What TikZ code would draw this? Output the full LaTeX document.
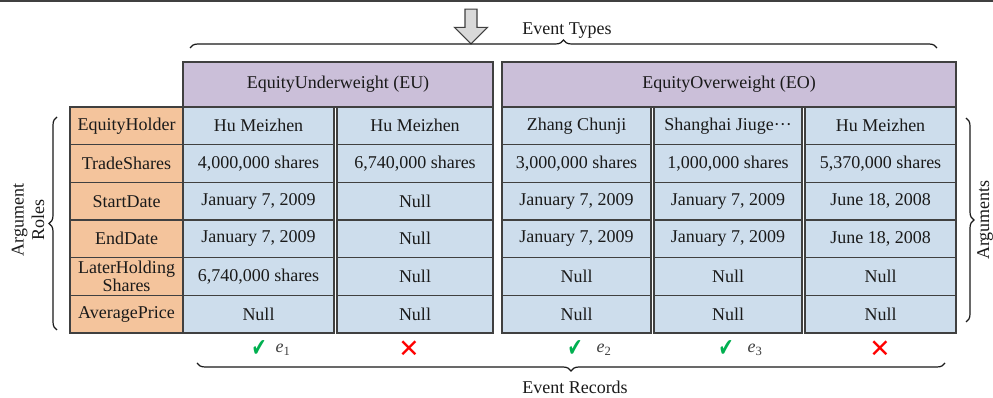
\documentclass[tikz,border=0pt]{standalone}
\usepackage{fontspec}
\setmainfont{Liberation Serif}
\newfontfamily\symfont{DejaVu Sans}
\usetikzlibrary{positioning,decorations.pathreplacing,shapes.arrows}
\definecolor{Canvas}{HTML}{FFFFFF}
\definecolor{RoleFill}{HTML}{F4C49C}
\definecolor{ArgFill}{HTML}{CDDDEC}
\definecolor{TypeFill}{HTML}{CBBFD9}
\definecolor{Frame}{HTML}{404040}
\definecolor{Ink}{HTML}{1A1A1A}
\definecolor{Muted}{HTML}{404040}
\definecolor{OkGreen}{HTML}{00B050}
\definecolor{NoRed}{HTML}{FF0000}
\definecolor{ArrowGray}{HTML}{D9D9D9}
\tikzset{cellbox/.style={rectangle,draw=Frame,line width=1pt,inner sep=0pt,minimum height=28.3pt,align=center,text=Ink},rolecell/.style={cellbox,fill=RoleFill,minimum width=84.75pt,font=\fontsize{13.5}{12}\selectfont},argcell/.style={cellbox,fill=ArgFill},typecell/.style={cellbox,fill=TypeFill,minimum height=33.75pt},colA/.style={minimum width=113.25pt},colB/.style={minimum width=117pt},colC/.style={minimum width=111.75pt},colD/.style={minimum width=111pt},colE/.style={minimum width=113.25pt},bracket/.style={decorate,decoration={brace,amplitude=6pt},line width=0.9pt,draw=Ink},tickmark/.style={text=OkGreen,font=\symfont\fontsize{19}{19}\selectfont},crossmark/.style={text=NoRed,font=\symfont\fontsize{19}{19}\selectfont},recname/.style={text=Muted},sidelabel/.style={text=Ink,align=center,rotate=90,font=\fontsize{13.5}{15.5}\selectfont}}

\begin{document}
\begin{tikzpicture}[x=0.75pt,y=-0.75pt,font=\fontsize{13.5}{16}\selectfont]
\fill[Canvas] (0,0) rectangle (993,398);
\useasboundingbox (0,0) rectangle (993,398);
\draw[Frame,line width=1.6pt] (0,1)--(993,1);
\node[single arrow,draw=Frame,fill=ArrowGray,line width=0.8pt,shape border rotate=270,minimum height=26pt,inner sep=4.1pt,single arrow head extend=7.9pt,single arrow head indent=0pt] (down) at (471,23.5) {};
% event types
\node[text=Ink] (types) at (567,31) {Event Types};
\node[typecell,minimum width=232.5pt] (EU) at (338,84.5) {EquityUnderweight (EU)};\node[typecell,minimum width=340.5pt] (EO) at (729,84.5) {EquityOverweight (EO)};
% argument rows
\node[rolecell] (R1) at (126.5,125.8) {EquityHolder};\node[argcell,colA] (A1) at (258.5,125.8) {Hu Meizhen};\node[argcell,colB] (B1) at (415,125.8) {Hu Meizhen};\node[argcell,colC] (C1) at (576.5,125.8) {Zhang Chunji};\node[argcell,colD] (D1) at (728,125.8) {Shanghai Jiuge···};\node[argcell,colE] (E1) at (880.5,125.8) {Hu Meizhen};
\node[rolecell] (R2) at (126.5,163.5) {TradeShares};\node[argcell,colA] (A2) at (258.5,163.5) {4,000,000 shares};\node[argcell,colB] (B2) at (415,163.5) {6,740,000 shares};\node[argcell,colC] (C2) at (576.5,163.5) {3,000,000 shares};\node[argcell,colD] (D2) at (728,163.5) {1,000,000 shares};\node[argcell,colE] (E2) at (880.5,163.5) {5,370,000 shares};
\node[rolecell] (R3) at (126.5,201.2) {StartDate};\node[argcell,colA] (A3) at (258.5,201.2) {January 7, 2009};\node[argcell,colB] (B3) at (415,201.2) {Null};\node[argcell,colC] (C3) at (576.5,201.2) {January 7, 2009};\node[argcell,colD] (D3) at (728,201.2) {January 7, 2009};\node[argcell,colE] (E3) at (880.5,201.2) {June 18, 2008};
\node[rolecell] (R4) at (126.5,238.8) {EndDate};\node[argcell,colA] (A4) at (258.5,238.8) {January 7, 2009};\node[argcell,colB] (B4) at (415,238.8) {Null};\node[argcell,colC] (C4) at (576.5,238.8) {January 7, 2009};\node[argcell,colD] (D4) at (728,238.8) {January 7, 2009};\node[argcell,colE] (E4) at (880.5,238.8) {June 18, 2008};
\node[rolecell] (R5) at (126.5,276.5) {LaterHolding\\Shares};\node[argcell,colA] (A5) at (258.5,276.5) {6,740,000 shares};\node[argcell,colB] (B5) at (415,276.5) {Null};\node[argcell,colC] (C5) at (576.5,276.5) {Null};\node[argcell,colD] (D5) at (728,276.5) {Null};\node[argcell,colE] (E5) at (880.5,276.5) {Null};
\node[rolecell] (R6) at (126.5,314.2) {AveragePrice};\node[argcell,colA] (A6) at (258.5,314.2) {Null};\node[argcell,colB] (B6) at (415,314.2) {Null};\node[argcell,colC] (C6) at (576.5,314.2) {Null};\node[argcell,colD] (D6) at (728,314.2) {Null};\node[argcell,colE] (E6) at (880.5,314.2) {Null};
% side labels and braces
\coordinate (tl) at (190,48);\coordinate (tr) at (937,48);\draw[bracket] (tl)--(tr);
\coordinate (lb) at (57,330);\coordinate (lt) at (57,117);\draw[bracket] (lb)--(lt);\node[sidelabel] (roles) at (28,220) {Argument\\Roles};
\coordinate (rt) at (966,118);\coordinate (rb) at (966,322);\draw[bracket] (rt)--(rb);\node[sidelabel] (args) at (985,220) {Arguments};
% records
\node[tickmark] (ok1) at (259,349) {\scalebox{0.7}[1]{✔}};\node[recname] (e1) at (283,350) {\textit{e}\textsubscript{1}};\node[crossmark] (no1) at (409,349) {✕};
\node[tickmark] (ok2) at (575,349) {\scalebox{0.7}[1]{✔}};\node[recname] (e2) at (604,350) {\textit{e}\textsubscript{2}};
\node[tickmark] (ok3) at (726,349) {\scalebox{0.7}[1]{✔}};\node[recname] (e3) at (755,350) {\textit{e}\textsubscript{3}};\node[crossmark] (no2) at (880,349) {✕};
\coordinate (br) at (945,363);\coordinate (bl) at (197,363);\draw[bracket] (br)--(bl);\node[text=Ink] (records) at (575,387) {Event Records};
\end{tikzpicture}
\end{document}
